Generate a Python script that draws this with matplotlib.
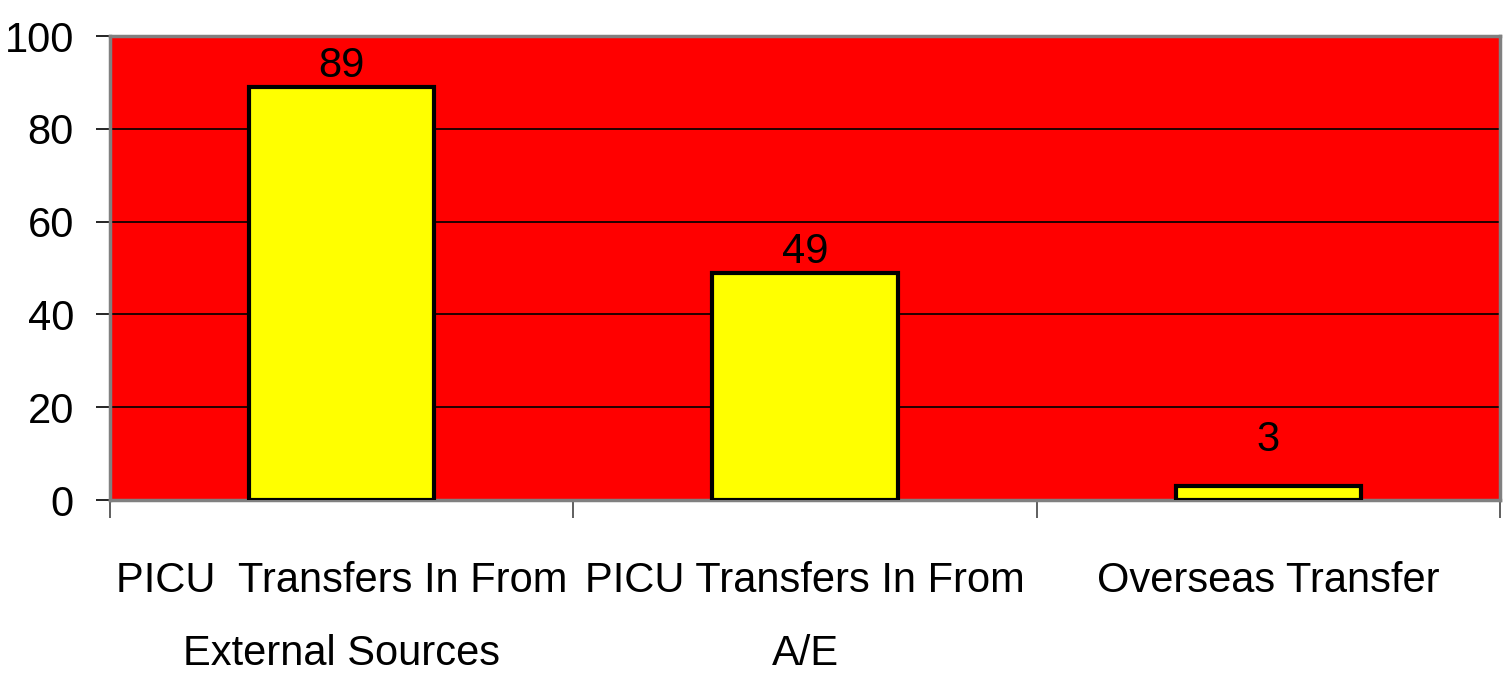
import matplotlib
matplotlib.use("Agg")
import matplotlib.pyplot as plt
from matplotlib import font_manager

categories = ["PICU  Transfers In From\nExternal Sources", "PICU Transfers In From\nA/E", "Overseas Transfer"]
values = [89, 49, 3]
yticks = [0, 20, 40, 60, 80, 100]

names = {f.name for f in font_manager.fontManager.ttflist}
fam = [n for n in ["Liberation Sans Narrow", "Liberation Sans", "DejaVu Sans"] if n in names]
plt.rcParams['font.family'] = fam
FS = 30

W, H = 1504, 678
fig = plt.figure(figsize=(W / 100, H / 100), dpi=100)
ax = fig.add_axes([110 / W, 1 - 500 / H, 1390 / W, 464 / H])
ax.set_facecolor("#FF0000")

x = list(range(len(values)))
ax.bar(x, values, width=0.4, color="#FFFF00", edgecolor="black", linewidth=3, zorder=3)
ax.set_xlim(-0.5, len(values) - 0.5)
ax.set_ylim(0, 100)
ax.set_yticks(yticks)
ax.set_yticklabels([str(t) for t in yticks], fontsize=FS)
ax.yaxis.grid(True, color="black", linewidth=1.2, zorder=1)
ax.set_axisbelow(True)

# category ticks at boundaries, labels at centres
ax.set_xticks([i - 0.5 for i in range(len(values) + 1)], minor=False)
ax.set_xticklabels([""] * (len(values) + 1))
ax.set_xticks(x, minor=True)
ax.set_xticklabels(categories, minor=True, fontsize=FS, linespacing=2.05)
ax.tick_params(axis="x", which="major", length=13, width=1.2, color="#444444", direction="out")
ax.tick_params(axis="x", which="minor", length=0, pad=44)
ax.tick_params(axis="y", length=10, width=1.2, pad=16, direction="out")

for s in ax.spines.values():
    s.set_color("#808080")
    s.set_linewidth(2.5)

for xi, v in zip(x, values):
    ax.text(xi, max(v + 4.5, 12.9), str(v), ha="center", va="center", fontsize=FS, zorder=4)

fig.savefig("out.png", dpi=100, facecolor="white")
